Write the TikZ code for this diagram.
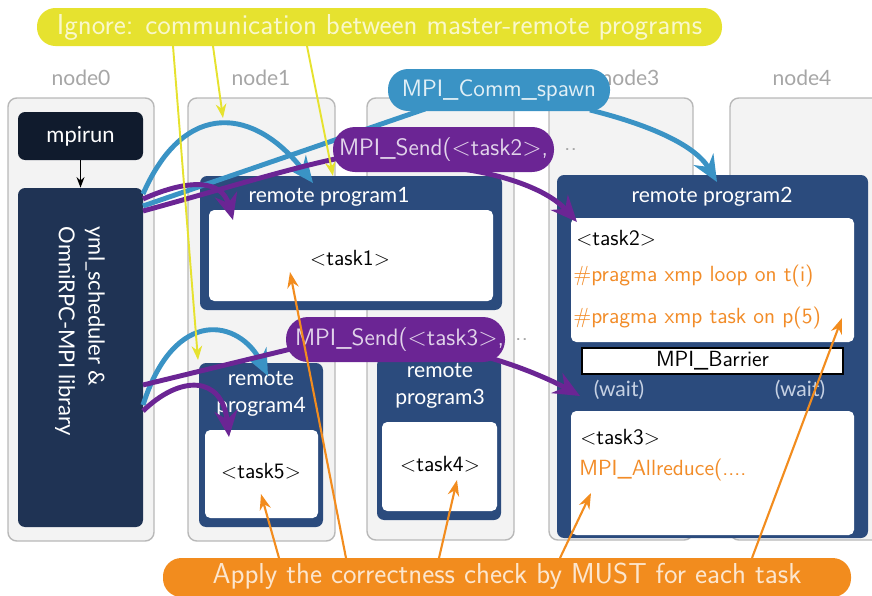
\documentclass[tikz,border=0pt]{standalone}
\usepackage{fontspec}
\newfontfamily\latofont{Lato}
\usetikzlibrary{arrows.meta,fit,positioning}

\definecolor{panelfill}{HTML}{F3F3F3}
\definecolor{panelline}{HTML}{B8B8B8}
\definecolor{namegray}{HTML}{A6A6A6}
\definecolor{runfill}{HTML}{101B2D}
\definecolor{ymlfill}{HTML}{1F3354}
\definecolor{rpfill}{HTML}{2B4B7D}
\definecolor{waitgray}{HTML}{C6D1E3}
\definecolor{spawnblue}{HTML}{3A93C5}
\definecolor{sendpurple}{HTML}{6B2594}
\definecolor{ignoreyellow}{HTML}{E6E22F}
\definecolor{mustorange}{HTML}{F28C1E}
\definecolor{codeorange}{HTML}{F28C28}

\tikzset{
  panel/.style={draw=panelline, fill=panelfill, line width=0.8pt, rounded corners=5pt, inner sep=0pt},
  colname/.style={text=namegray, font=\latofont\fontsize{12}{14}\selectfont},
  darkbox/.style={rounded corners=4pt, inner sep=0pt},
  rpbox/.style={fill=rpfill, rounded corners=4pt, inner sep=0pt},
  rptitle/.style={text=white, align=center, font=\latofont\fontsize{12}{15.3}\selectfont},
  taskbox/.style={fill=white, rounded corners=3pt, inner sep=0pt},
  tasktxt/.style={font=\sffamily\fontsize{12.5}{15}\selectfont},
  code/.style={anchor=west, inner sep=0pt, font=\sffamily\fontsize{12.5}{15}\selectfont},
  pill/.style={inner sep=0pt},
  pilltxt/.style={font=\sffamily\fontsize{13.5}{15}\selectfont},
  bannertxt/.style={font=\sffamily\fontsize{16.4}{18}\selectfont},
  spawnarrow/.style={draw=spawnblue, line width=2.8pt, -{Stealth[length=15pt,width=13pt,inset=5pt]}},
  sendarrow/.style={draw=sendpurple, line width=2.8pt, -{Stealth[length=15pt,width=13pt,inset=5pt]}},
  ignorearrow/.style={draw=ignoreyellow, line width=1.1pt, -{Stealth[length=8pt,width=6pt]}},
  mustarrow/.style={draw=mustorange, line width=1.2pt, -{Stealth[length=9pt,width=6.5pt]}}
}

\begin{document}
\begin{tikzpicture}[x=0.02cm, y=-0.02cm]
\useasboundingbox (0,0) rectangle (872,595);
\clip (0,0) rectangle (872,595);

% node columns
\node[panel, fit={(8,98) (154,541)}] (col0) {};
\node[panel, fit={(188,98) (335,541)}] (col1) {};
\node[panel, fit={(367,98) (514,540)}] (col2) {};
\node[panel, fit={(549,98) (693,540)}] (col3) {};
\node[panel, fit={(730,98) (890,540)}] (col4) {};
\foreach \i/\x in {0/81,1/261,3/630,4/802}
  \node[colname] (name\i) at (\x,78) {node\i};

% master side
\node[darkbox, fill=runfill, fit={(18,112) (143,160)}] (mpirun) {};
\node[text=white, font=\latofont\fontsize{12.5}{15}\selectfont] (runtxt) at (mpirun.center) {mpirun};
\node[darkbox, fill=ymlfill, fit={(18,188) (143,527)}] (yml) {};
\node[text=white, rotate=-90, align=left, font=\latofont\fontsize{12.5}{17}\selectfont] (ymltxt) at (80,331)
  {yml\_scheduler \&\\OmniRPC-MPI library};
\draw[-{Stealth[length=6pt,width=4.5pt]}, line width=0.9pt] (mpirun) -- (yml);

% remote programs
\node[rpbox, fit={(200,176) (502,310)}] (rp1) {};
\node[rptitle] (rp1t) at (329,197) {remote program1};
\node[taskbox, fit={(209,210) (493,301)}] (task1) {};
\node[tasktxt] (task1txt) at (350,258) {$<$task1$>$};

\node[rpbox, fit={(199,363) (323,527)}] (rp4) {};
\node[rptitle] (rp4t) at (261,394) {remote\\program4};
\node[taskbox, fit={(205,430) (318,518)}] (task5) {};
\node[tasktxt] (task5txt) at (261,471) {$<$task5$>$};

\node[rpbox, fit={(377,358) (501,520)}] (rp3) {};
\node[rptitle] (rp3t) at (440,386) {remote\\program3};
\node[taskbox, fit={(382,422) (497,511)}] (task4) {};
\node[tasktxt] (task4txt) at (440,464) {$<$task4$>$};

\node[rpbox, fit={(557,175) (868,538)}] (rp2) {};
\node[rptitle] (rp2t) at (712,197) {remote program2};
\node[taskbox, fit={(571,218) (854,342)}] (task2) {};
\node[code] (t2a) at (576,238) {$<$task2$>$};
\node[code, text=codeorange] (t2b) at (573,276) {\#pragma xmp loop on t(i)};
\node[code, text=codeorange] (t2c) at (573,318) {\#pragma xmp task on p(5)};
\node[draw=black, fill=white, line width=0.8pt, inner sep=0pt, fit={(582,348) (843,374)}] (barrier) {};
\node[tasktxt] (barriertxt) at (barrier.center) {MPI\_Barrier};
\node[text=waitgray, font=\latofont\fontsize{12}{14}\selectfont] (wait1) at (619,390) {(wait)};
\node[text=waitgray, font=\latofont\fontsize{12}{14}\selectfont] (wait2) at (800,390) {(wait)};
\node[taskbox, fit={(571,411) (854,535)}] (task3) {};
\node[code] (t3a) at (580,437) {$<$task3$>$};
\node[code, text=codeorange] (t3b) at (579,470) {MPI\_Allreduce(....};

% end points of the connectors
\coordinate (ymlA) at (143,194);
\coordinate (ymlB) at (143,199);
\coordinate (ymlC) at (143,206);
\coordinate (ymlD) at (143,211);
\coordinate (ymlE) at (143,385);
\coordinate (ymlF) at (143,405);
\coordinate (ymlG) at (143,411);
\coordinate (rp1tip) at (313,183);
\coordinate (rp2tip) at (717,182);
\coordinate (rp4tip) at (268,376);
\coordinate (task1tip) at (233,220);
\coordinate (task2tip) at (577,222);
\coordinate (task5tip) at (229,437);
\coordinate (waittip) at (580,396);
\coordinate (spawnL) at (425,109);
\coordinate (spawnR) at (590,110);
\coordinate (sendtwoL) at (340,158);
\coordinate (sendtwoR) at (455,168);
\coordinate (sendthreeL) at (295,348);
\coordinate (sendthreeR) at (490,358);

% MPI_Comm_spawn
\draw[spawnarrow] (ymlA) .. controls (185,98) and (255,108) .. (rp1tip);
\draw[draw=spawnblue, line width=2.8pt] (spawnL) -- (ymlC);
\draw[spawnarrow] (spawnR) .. controls (650,125) and (695,145) .. (rp2tip);
\draw[spawnarrow] (ymlF) .. controls (175,305) and (240,320) .. (rp4tip);

% MPI_Send
\draw[sendarrow] (ymlB) .. controls (190,178) and (222,180) .. (task1tip);
\draw[draw=sendpurple, line width=2.8pt] (ymlD) .. controls (220,190) and (290,168) .. (sendtwoL);
\draw[sendarrow] (sendtwoR) .. controls (510,175) and (550,192) .. (task2tip);
\draw[sendarrow] (ymlG) .. controls (180,375) and (222,375) .. (task5tip);
\draw[draw=sendpurple, line width=2.8pt] (ymlE) -- (sendthreeL);
\draw[sendarrow] (sendthreeR) .. controls (525,368) and (555,382) .. (waittip);

% call labels
\node[pill, fill=spawnblue, rounded corners=11.5pt, fit={(388,69) (610,111)}] (spawn) {};
\node[pilltxt, text=white!85!spawnblue] (spawntxt) at (spawn.center) {MPI\_Comm\_spawn};
\node[pill, fill=sendpurple, rounded corners=12.5pt, fit={(333,127) (554,172)}] (sendtwo) {};
\node[pilltxt, text=white!80!sendpurple] (sendtwotxt) at (sendtwo.center) {MPI\_Send($<$task2$>$,};
\node[pilltxt, text=namegray, right=2pt of sendtwo.east] (sendtwodots) {..};
\node[pill, fill=sendpurple, rounded corners=12.5pt, fit={(286,317) (505,362)}] (sendthree) {};
\node[pilltxt, text=white!80!sendpurple] (sendthreetxt) at ([xshift=0.08cm]sendthree.center) {MPI\_Send($<$task3$>$,};
\node[pilltxt, text=namegray, right=2pt of sendthree.east] (sendthreedots) {..};

% ignore banner
\node[pill, fill=ignoreyellow, rounded corners=10.5pt, fit={(37,8) (722,46)}] (ignore) {};
\node[bannertxt, text=white!75!ignoreyellow] (ignoretxt) at (ignore.center)
  {Ignore: communication between master-remote programs};
\coordinate (ig1) at (173,46);
\coordinate (ig2) at (213,46);
\coordinate (ig3) at (307,46);
\coordinate (ig1tip) at (198,360);
\coordinate (ig2tip) at (223,118);
\coordinate (ig3tip) at (333,176);
\draw[ignorearrow] (ig1) -- (ig1tip);
\draw[ignorearrow] (ig2) -- (ig2tip);
\draw[ignorearrow] (ig3) -- (ig3tip);

% MUST banner
\node[pill, fill=mustorange, rounded corners=10.5pt, fit={(163,558) (851,597)}] (must) {};
\node[bannertxt, text=white!78!mustorange] (musttxt) at (507,576)
  {Apply the correctness check by MUST for each task};
\coordinate (mu1) at (279,558);
\coordinate (mu2) at (346,558);
\coordinate (mu3) at (439,558);
\coordinate (mu4) at (560,558);
\coordinate (mu5) at (752,558);
\coordinate (mu1tip) at (261,494);
\coordinate (mu2tip) at (290,272);
\coordinate (mu3tip) at (457,480);
\coordinate (mu4tip) at (591,493);
\coordinate (mu5tip) at (842,318);
\foreach \k in {1,...,5}
  \draw[mustarrow] (mu\k) -- (mu\k tip);
\end{tikzpicture}
\end{document}
